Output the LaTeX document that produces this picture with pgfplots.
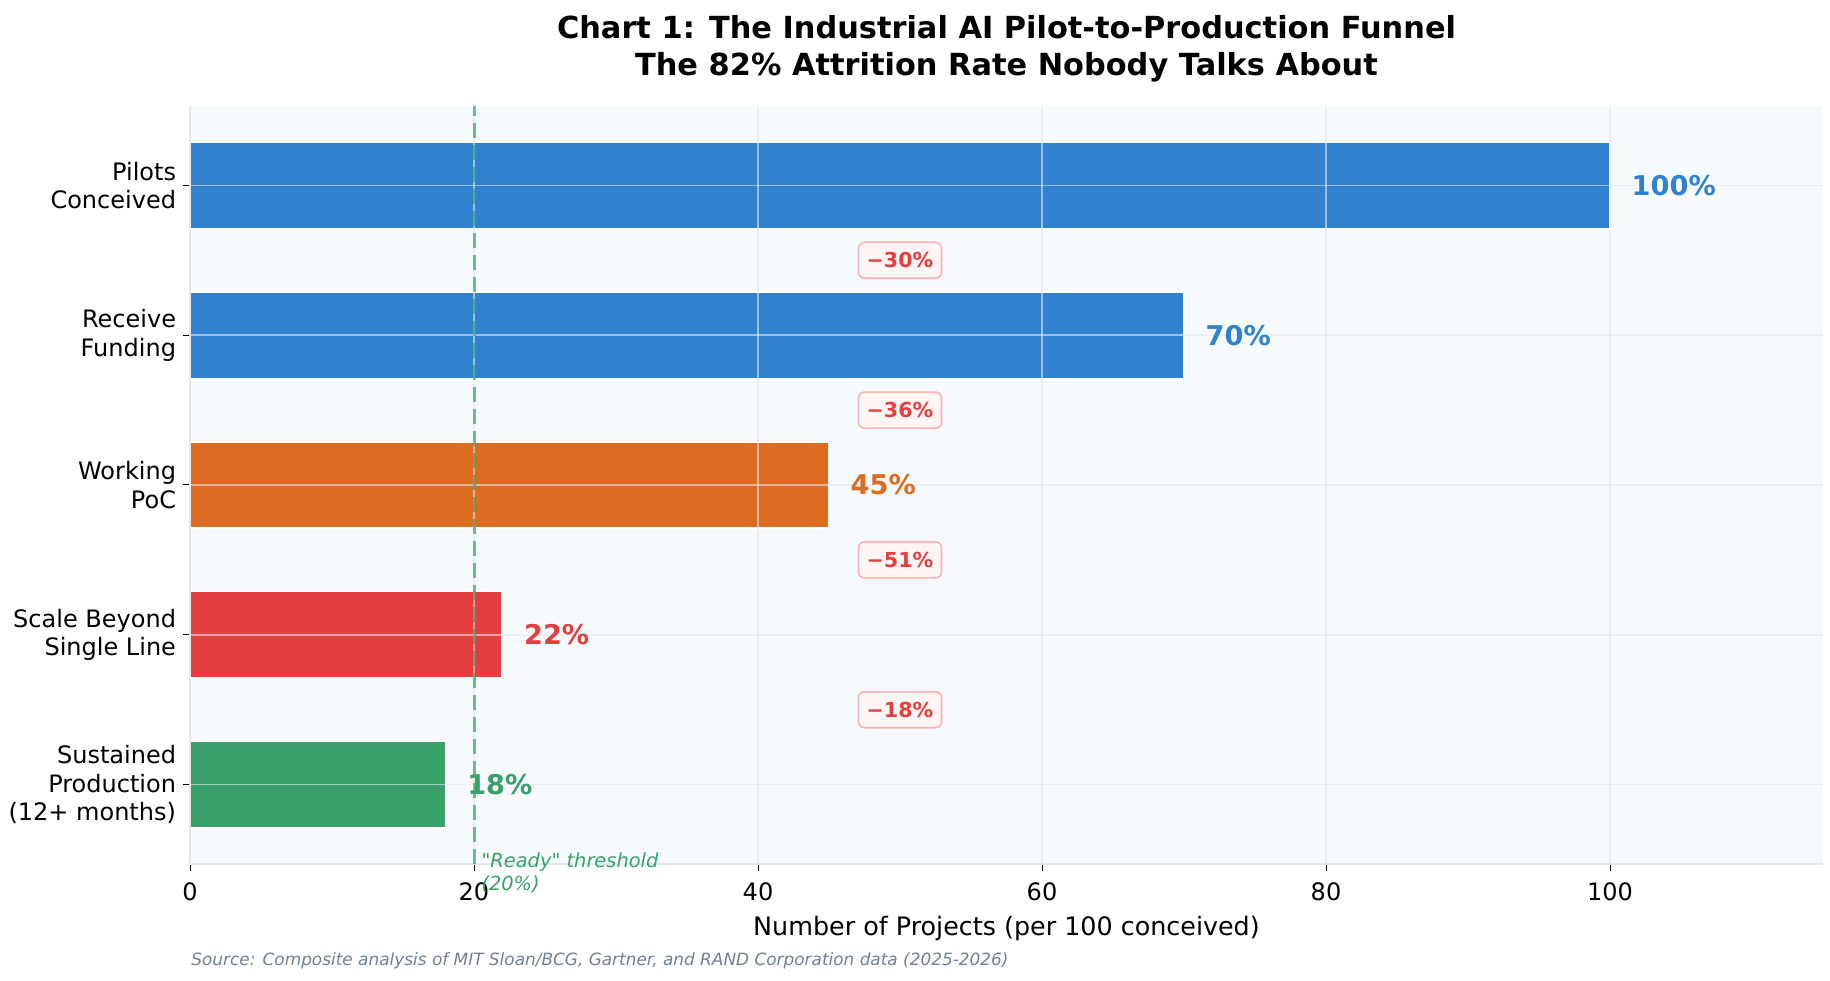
\documentclass[border=0pt]{standalone}
\usepackage{fontspec}
\setmainfont{DejaVu Sans}
\newfontfamily\qf{DejaVu Sans}
\usepackage{pgfplots}
\pgfplotsset{compat=1.18}
\definecolor{cblue}{HTML}{3182CE}
\definecolor{corange}{HTML}{DD6B20}
\definecolor{cred}{HTML}{E53E3E}
\definecolor{cgreen}{HTML}{38A169}
\definecolor{bgc}{HTML}{F7FAFC}
\definecolor{gridc}{HTML}{E2E8F0}
\definecolor{spinec}{HTML}{E2E8F0}
\definecolor{srcc}{HTML}{718096}
\definecolor{boxfill}{HTML}{FFF5F5}
\definecolor{boxedge}{HTML}{FEB2B2}
\tikzset{dropbox/.style={fill=boxfill, draw=boxedge, line width=0.8pt, rounded corners=3pt, text=cred, font=\fontsize{10.3}{12}\selectfont\bfseries, inner sep=0pt, minimum width=41.5pt, minimum height=18pt, text height=7.5pt, text depth=0pt},
  vlab/.style={anchor=west, inner sep=0pt, font=\fontsize{13.6}{16}\selectfont\bfseries}}
\begin{document}
\begin{tikzpicture}
\begin{axis}[
  at={(0,0)}, anchor=south west,
  scale only axis, width=816.5pt, height=379pt,
  xmin=0, xmax=115, ymin=-0.53, ymax=4.53,
  clip=false,
  set layers=axis on top,
  axis background/.style={fill=bgc},
  axis x line=bottom, axis y line=left,
  axis line style={draw=spinec, line width=0.8pt, -},
  tick align=outside,
  major tick length=3.5pt,
  tick style={black, line width=0.5pt},
  xtick={0,20,40,60,80,100},
  ytick={0,1,2,3,4},
  yticklabels={{Sustained\\Production\\(12+ months)},{Scale Beyond\\Single Line},{Working\\PoC},{Receive\\Funding},{Pilots\\Conceived}},
  grid=major,
  grid style={draw=gridc, opacity=0.6, line width=0.8pt},
  /pgf/number format/assume math mode=true,
  ticklabel style={font=\fontsize{12}{14.2}\selectfont, text=black},
  xticklabel style={anchor=north, inner sep=0pt, yshift=-5.5pt},
  yticklabel style={anchor=east, inner sep=0pt, align=right, xshift=-3.3pt},
]
\addplot[xbar, bar width=0.58, bar shift=0pt, fill=cblue, draw=white, line width=1pt] coordinates {(100,4)};
\addplot[xbar, bar width=0.58, bar shift=0pt, fill=cblue, draw=white, line width=1pt] coordinates {(70,3)};
\addplot[xbar, bar width=0.58, bar shift=0pt, fill=corange, draw=white, line width=1pt] coordinates {(45,2)};
\addplot[xbar, bar width=0.58, bar shift=0pt, fill=cred, draw=white, line width=1pt] coordinates {(22,1)};
\addplot[xbar, bar width=0.58, bar shift=0pt, fill=cgreen, draw=white, line width=1pt] coordinates {(18,0)};
\addplot[on layer=axis foreground, cgreen, opacity=0.7, line width=1.5pt, dash pattern=on 7.5pt off 3.5pt] coordinates {(20,-0.53) (20,4.53)};
\begin{pgfonlayer}{axis foreground}
\node[vlab, text=cblue] at (axis cs:101.5,4) {100\%};
\node[vlab, text=cblue] at (axis cs:71.5,3) {70\%};
\node[vlab, text=corange] at (axis cs:46.5,2) {45\%};
\node[vlab, text=cred] at (axis cs:23.5,1) {22\%};
\node[vlab, text=cgreen] at (axis cs:19.5,0) {18\%};
\node[dropbox] at (axis cs:50,3.5) {−30\%};
\node[dropbox] at (axis cs:50,2.5) {−36\%};
\node[dropbox] at (axis cs:50,1.5) {−51\%};
\node[dropbox] at (axis cs:50,0.5) {−18\%};
\node[anchor=north west, inner sep=0pt, align=left, text=cgreen, font=\qf\fontsize{9.7}{11.5}\selectfont\itshape] at (axis cs:20.5,-0.45) {"Ready" threshold\\(20\%)};
\end{pgfonlayer}
\end{axis}
\node[anchor=base, font=\fontsize{15.2}{17}\selectfont\bfseries] at (408.25pt,412.8pt) {Chart 1: The Industrial AI Pilot-to-Production Funnel};
\node[anchor=base, font=\fontsize{15.2}{17}\selectfont\bfseries] at (408.25pt,394.2pt) {The 82\% Attrition Rate Nobody Talks About};
\node[anchor=base, font=\fontsize{12.7}{15}\selectfont] at (408.25pt,-35.5pt) {Number of Projects (per 100 conceived)};
\node[anchor=base west, inner sep=0pt, text=srcc, font=\fontsize{8.45}{10}\selectfont\itshape] at (0.5pt,-50.5pt) {Source: Composite analysis of MIT Sloan/BCG, Gartner, and RAND Corporation data (2025-2026)};
\pgfresetboundingbox
\path[use as bounding box] (-95pt,-58pt) rectangle (820pt,432pt);
\end{tikzpicture}
\end{document}
